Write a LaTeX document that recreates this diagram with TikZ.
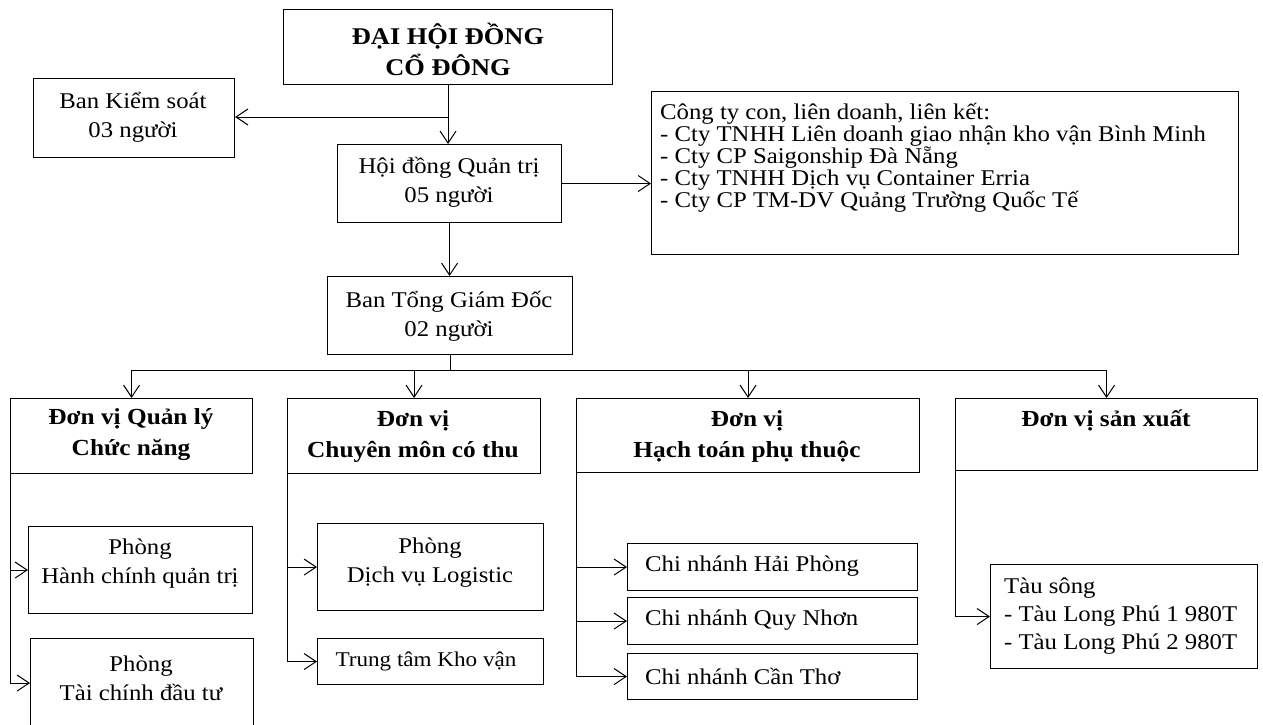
\documentclass[tikz,border=0pt]{standalone}
\usepackage{fontspec}
\setmainfont{Liberation Serif}[FakeStretch=1.1]
\usetikzlibrary{arrows.meta}
\tikzset{
  box/.style={draw, line width=1.1pt, inner sep=0pt, anchor=north west},
  txt/.style={font=\fontsize{22.5}{29}\selectfont, align=center, inner sep=0pt},
  btxt/.style={font=\fontsize{23}{31}\selectfont\bfseries, align=center, inner sep=0pt},
  ltxt/.style={font=\fontsize{22.5}{22}\selectfont, align=left, inner sep=0pt, anchor=west},
  arr/.style={-{Straight Barb[length=12pt,width=16pt,line width=1pt]}, line width=1pt},
  ln/.style={line width=1pt}
}
\begin{document}
\begin{tikzpicture}[x=1pt,y=-1pt]
\useasboundingbox (0,0) rectangle (1263,725);
\clip (0,0) rectangle (1263,725);
% boxes
\node[box, minimum width=329pt, minimum height=75pt] (top) at (283,9) {};
\node[box, minimum width=201pt, minimum height=79pt] (bks) at (33,78) {};
\node[box, minimum width=224pt, minimum height=78pt] (hdqt) at (337,144) {};
\node[box, minimum width=587pt, minimum height=163pt] (sub) at (651,91) {};
\node[box, minimum width=245pt, minimum height=78pt] (tgd) at (327,276) {};
\node[box, minimum width=242pt, minimum height=75pt] (u1) at (10,398) {};
\node[box, minimum width=253pt, minimum height=75pt] (u2) at (287,398) {};
\node[box, minimum width=343pt, minimum height=74pt] (u3) at (576,398) {};
\node[box, minimum width=302pt, minimum height=72pt] (u4) at (955,398) {};
\node[box, minimum width=224pt, minimum height=87pt] (p1) at (28,526) {};
\node[box, minimum width=223pt, minimum height=89pt] (p2) at (30,638) {};
\node[box, minimum width=226pt, minimum height=87pt] (d1) at (317,523) {};
\node[box, minimum width=226pt, minimum height=46pt] (d2) at (317,638) {};
\node[box, minimum width=290pt, minimum height=47pt] (c1) at (627,543) {};
\node[box, minimum width=290pt, minimum height=47pt] (c2) at (627,597) {};
\node[box, minimum width=290pt, minimum height=46pt] (c3) at (627,653) {};
\node[box, minimum width=267pt, minimum height=104pt] (t1) at (990,564) {};
% texts
\node[btxt, font=\fontsize{24}{31}\selectfont\bfseries] (topT) at (448,49) {ĐẠI HỘI ĐỒNG\\CỔ ĐÔNG};
\node[txt] (bksT) at (133,117) {Ban Kiểm soát\\03 người};
\node[txt] (hdqtT) at (449,182) {Hội đồng Quản trị\\05 người};
\node[ltxt] (subT) at (660,158) {Công ty con, liên doanh, liên kết:\\- Cty TNHH Liên doanh giao nhận kho vận Bình Minh\\- Cty CP Saigonship Đà Nẵng\\- Cty TNHH Dịch vụ Container Erria\\- Cty CP TM-DV Quảng Trường Quốc Tế};
\node[txt] (tgdT) at (449,316) {Ban Tổng Giám Đốc\\02 người};
\node[btxt] (u1T) at (131,435) {Đơn vị Quản lý\\Chức năng};
\node[btxt] (u2T) at (413,436) {Đơn vị\\Chuyên môn có thu};
\node[btxt] (u3T) at (747,436) {Đơn vị\\Hạch toán phụ thuộc};
\node[btxt] (u4T) at (1106,420) {Đơn vị sản xuất};
\node[txt] (p1T) at (140,564) {Phòng\\Hành chính quản trị};
\node[txt] (p2T) at (141,678) {Phòng\\Tài chính đầu tư};
\node[txt] (d1T) at (430,563) {Phòng\\Dịch vụ Logistic};
\node[txt, font=\fontsize{21}{26}\selectfont] (d2T) at (426,661) {Trung tâm Kho vận};
\node[ltxt] (c1T) at (645,566) {Chi nhánh Hải Phòng};
\node[ltxt] (c2T) at (645,620) {Chi nhánh Quy Nhơn};
\node[ltxt] (c3T) at (645,676) {Chi nhánh Cần Thơ};
\node[ltxt, font=\fontsize{22.5}{28}\selectfont] (t1T) at (1004,616) {Tàu sông\\- Tàu Long Phú 1 980T\\- Tàu Long Phú 2 980T};
% connectors
\coordinate (j1) at (448,117);
\coordinate (bus) at (448,370);
\draw[arr] (top.south) -- (top.south |- hdqt.north);
\draw[arr] (j1) -- (j1 -| bks.east);
\draw[arr] (hdqt.east) -- (hdqt.east -| sub.west);
\draw[arr] (hdqt.south) -- (hdqt.south |- tgd.north);
\draw[ln] (tgd.south) -- (tgd.south |- bus);
\draw[ln] (u1.north |- bus) -- (u4.north |- bus);
\draw[arr] (u1.north |- bus) -- (u1.north);
\draw[arr] (u2.north |- bus) -- (u2.north);
\draw[arr] (u3.north |- bus) -- (u3.north);
\draw[arr] (u4.north |- bus) -- (u4.north);
\draw[arr] (u1.south west) |- (p1.west);
\draw[arr] (u1.south west) |- (p2.west);
\draw[arr] (u2.south west) |- (d1.west);
\draw[arr] (u2.south west) |- (d2.west);
\draw[arr] (u3.south west) |- (c1.west);
\draw[arr] (u3.south west) |- (c2.west);
\draw[arr] (u3.south west) |- (c3.west);
\draw[arr] (u4.south west) |- (t1.west);
\end{tikzpicture}
\end{document}
